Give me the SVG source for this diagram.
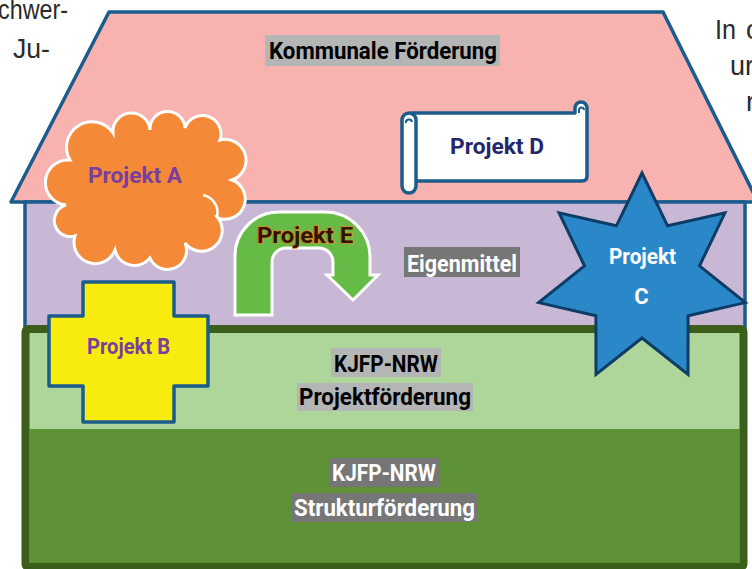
<svg xmlns="http://www.w3.org/2000/svg" width="752" height="569" viewBox="0 0 752 569">
<defs>
<style>
.frag{font-family:"Liberation Sans",Arial,sans-serif;font-size:27px;fill:#2a2a2a}
.lbl{font-family:Roboto,"Liberation Sans",Arial,sans-serif;font-weight:bold;font-size:23px;text-anchor:middle}
.prj{font-family:Roboto,"Liberation Sans",Arial,sans-serif;font-weight:bold;font-size:22px;text-anchor:middle}
.blue{stroke:#1a5c8c;stroke-width:3.5;stroke-linejoin:round}
.boxL{fill:#b3b6b5}
.boxD{fill:#767676}
</style>
</defs>
<rect width="752" height="569" fill="#ffffff"/>
<g id="fragments">
<text class="frag" x="68" y="19" text-anchor="end" textLength="70" lengthAdjust="spacingAndGlyphs">chwer-</text>
<text class="frag" x="13" y="58" textLength="37" lengthAdjust="spacingAndGlyphs">Ju-</text>
<text class="frag" x="715" y="39" textLength="21" lengthAdjust="spacingAndGlyphs">In</text>
<text class="frag" x="746" y="39">c</text>
<text class="frag" x="730" y="75">ur</text>
<text class="frag" x="746" y="111">r</text>
</g>
<g id="roof">
<polygon class="blue" points="109,12 663,12 758,202 11,202" fill="#f8b2b0"/>
</g>
<g id="wall">
<rect class="blue" x="25" y="202" width="720" height="128" fill="#c8b8d6"/>
</g>
<g id="foundation">
<rect x="25.5" y="329" width="718" height="238" fill="#aed59a"/>
<rect x="29.5" y="429" width="710" height="134" fill="#5f9236"/>
<rect x="25.5" y="329" width="718" height="238" rx="3" fill="none" stroke="#3b5e1b" stroke-width="8"/>
</g>
<g id="label-kommunal">
<rect class="boxL" x="265" y="35" width="235" height="31"/>
<text class="lbl" x="383" y="59" fill="#000" textLength="228" lengthAdjust="spacingAndGlyphs">Kommunale Förderung</text>
</g>
<g id="label-eigenmittel">
<rect class="boxD" x="404" y="247" width="116" height="30"/>
<text class="lbl" x="462" y="272" fill="#fff" font-size="22" textLength="110" lengthAdjust="spacingAndGlyphs">Eigenmittel</text>
</g>
<g id="label-projektfoerderung">
<rect class="boxL" x="331" y="348" width="110" height="29"/>
<text class="lbl" x="386" y="372" fill="#000" textLength="104" lengthAdjust="spacingAndGlyphs">KJFP-NRW</text>
<rect class="boxL" x="297" y="383" width="176" height="28"/>
<text class="lbl" x="385" y="405" fill="#000" textLength="172" lengthAdjust="spacingAndGlyphs">Projektförderung</text>
</g>
<g id="label-strukturfoerderung">
<rect class="boxD" x="329" y="458" width="110" height="29"/>
<text class="lbl" x="384" y="481" fill="#fff" textLength="104" lengthAdjust="spacingAndGlyphs">KJFP-NRW</text>
<rect class="boxD" x="291" y="493" width="187" height="29"/>
<text class="lbl" x="384.5" y="516" fill="#fff" textLength="181" lengthAdjust="spacingAndGlyphs">Strukturförderung</text>
</g>
<g id="projekt-a">
<path d="M66,205 A22.5,22.5 0 0 1 70,160 A25.4,25.4 0 0 1 113,133 A18.5,18.5 0 0 1 150,130 A17.5,17.5 0 0 1 185,128 A18.5,18.5 0 0 1 220,140 A20.9,20.9 0 0 1 232,180 A20.2,20.2 0 0 1 218,218 A20.7,20.7 0 0 1 185,243 A19,19 0 0 1 150,258 A20,20 0 0 1 115,250 A21.2,21.2 0 0 1 75,236 A16,16 0 0 1 66,205 Z" fill="#f48a38" stroke="#ffffff" stroke-width="3"/>
<path d="M203,195 A18,18 0 0 1 217,217" fill="none" stroke="#ffffff" stroke-width="2.5"/>
<text class="prj" x="135" y="183" fill="#7a3e9d" textLength="94" lengthAdjust="spacingAndGlyphs">Projekt A</text>
</g>
<g id="projekt-e">
<path d="M235,315 V256 A44,44 0 0 1 279,212 H325 A45,45 0 0 1 370,257 V275 H378 L353,300 L327,275 H333 V262 A14,14 0 0 0 319,248 H286 A14,14 0 0 0 272,262 V315 Z" fill="#66bb46" stroke="#ffffff" stroke-width="3" stroke-linejoin="miter"/>
<text class="prj" x="305" y="243" fill="#2b1600" stroke="#e67e22" stroke-width="1.6" paint-order="stroke" textLength="96" lengthAdjust="spacingAndGlyphs">Projekt E</text>
</g>
<g id="projekt-d">
<path class="blue" d="M412,113 H575 V108 A6,6 0 0 1 587,108 V176 Q587,181 582,181 H412 Z" fill="#ffffff" stroke-width="3"/>
<path d="M579,113 V110 A2.5,2.5 0 0 1 584,110" fill="none" stroke="#1a5c8c" stroke-width="2"/>
<path class="blue" d="M402,120 A7,7 0 0 1 416,120 V186 A7,7 0 0 1 402,186 Z" fill="#ffffff" stroke-width="3"/>
<path d="M406,123 A3,3 0 0 1 412,122" fill="none" stroke="#1a5c8c" stroke-width="2"/>
<text class="prj" x="497" y="154" fill="#23276b" textLength="94" lengthAdjust="spacingAndGlyphs">Projekt D</text>
</g>
<g id="projekt-b">
<polygon class="blue" points="83,282 174,282 174,316 208,316 208,386 174,386 174,422 83,422 83,386 49,386 49,316 83,316" fill="#f8ec0f" stroke-width="3"/>
<text class="prj" x="128.5" y="354" fill="#7a3e9d" font-size="21" textLength="83" lengthAdjust="spacingAndGlyphs">Projekt B</text>
</g>
<g id="projekt-c">
<polygon points="642,173 667.6,225.8 724.9,212.9 699.5,265.9 745.3,302.6 688.1,315.8 688,374.5 642,338 596,374.5 595.9,315.8 538.7,302.6 584.5,265.9 559.1,212.9 616.4,225.8" fill="#2b88c8" stroke="#0d3d66" stroke-width="3" stroke-linejoin="miter"/>
<text class="prj" x="642.5" y="264" fill="#ffffff" font-size="20" textLength="67" lengthAdjust="spacingAndGlyphs">Projekt</text>
<text class="prj" x="641.5" y="304" fill="#ffffff" font-size="20">C</text>
</g>
</svg>
